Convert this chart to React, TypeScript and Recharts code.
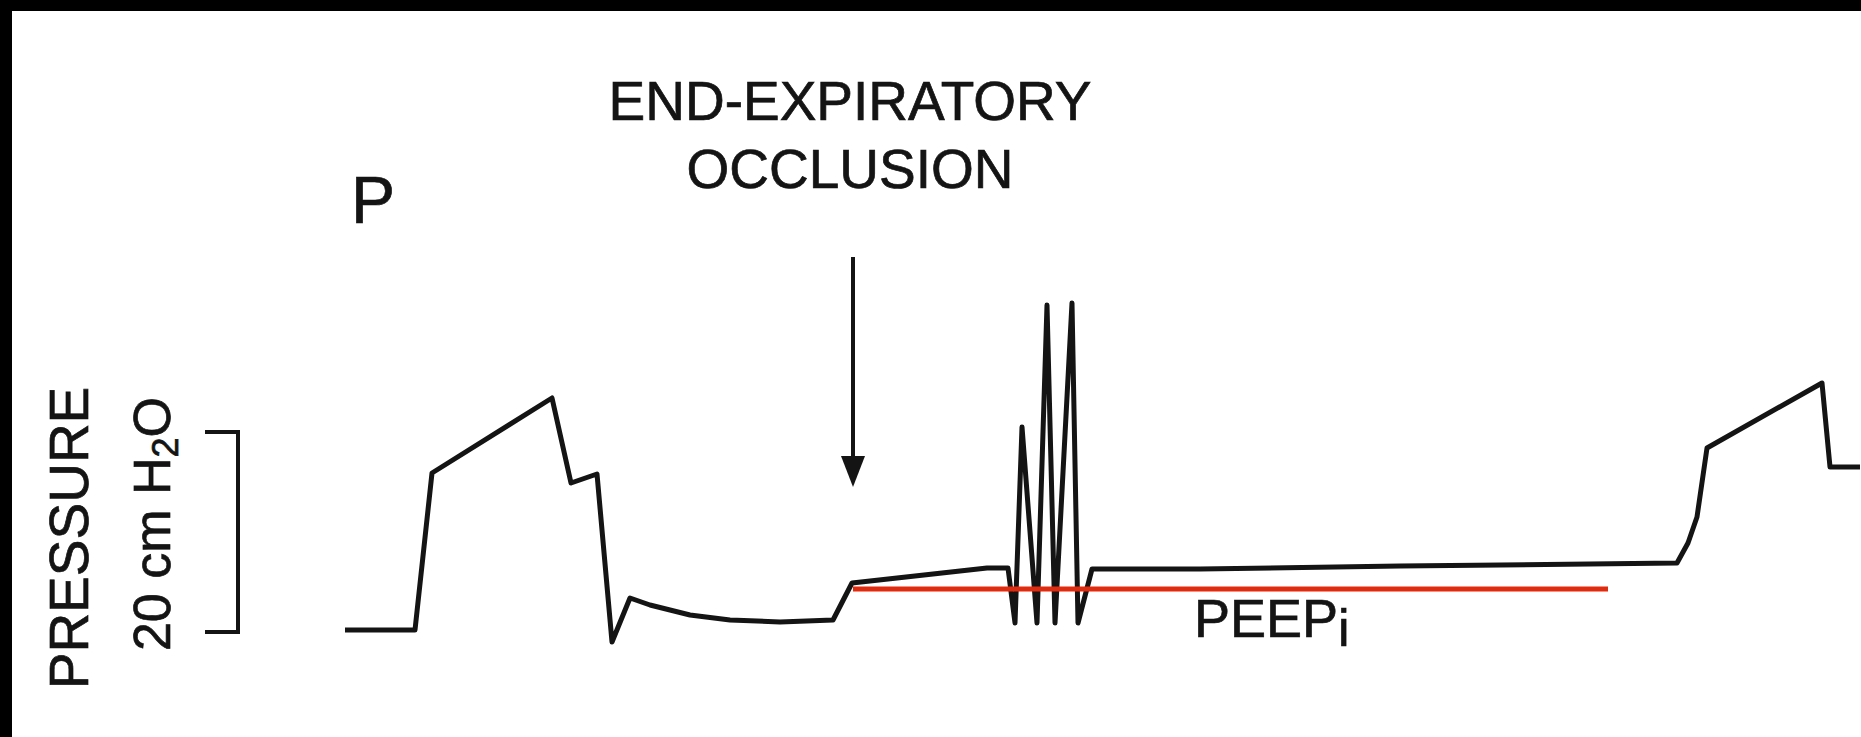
import { LineChart, Line, XAxis, YAxis, ReferenceLine, ReferenceDot } from 'recharts'

// time in s (1 s = 100 px of trace), pressure in cm H2O
const times = [
  3.45, 4.15, 4.32, 5.52, 5.71, 5.97, 6.12, 6.3, 6.5, 6.9, 7.3, 7.8, 8.33, 8.52, 9.87, 10.08,
  10.15, 10.22, 10.37, 10.47, 10.55, 10.72, 10.78, 10.92, 12.0, 14.0, 16.77, 16.88, 16.97,
  17.07, 18.22, 18.3, 18.6,
]
const pressures = [
  0.2, 0.2, 15.9, 23.4, 14.9, 15.8, -1.0, 3.4, 2.7, 1.7, 1.2, 1.0, 1.2, 4.9, 6.4, 6.4,
  0.9, 20.5, 0.9, 32.7, 0.9, 32.9, 0.9, 6.3, 6.3, 6.6, 6.9, 8.9, 11.5,
  18.4, 24.9, 16.5, 16.5,
]

const occlusionTime = 8.53
const peepStart = 8.53
const peepEnd = 16.08
const peepValue = 4.3
const scaleBar = [0, 20]

const data = times.map((t, i) => ({ t, p: pressures[i] }))

const font = '"Liberation Sans", Arial, Helvetica, sans-serif'
const ink = '#141414'

function ArrowHead(props: any) {
  const { cx, cy } = props
  return <polygon points={`${cx},${cy} ${cx - 12},${cy - 31} ${cx + 12},${cy - 31}`} fill={ink} />
}

// slightly heavier strokes on the text, like the scanned figure
const textStyle = { fontFamily: font, fill: ink, stroke: ink, strokeWidth: 0.7 }

export default function App() {
  return (
    <div style={{ position: 'absolute', left: 0, top: 0, width: 1861, height: 737, background: '#000' }}>
      <div style={{ position: 'absolute', left: 12, top: 11, width: 1849, height: 726, background: '#fff' }}>
        <LineChart width={1849} height={726} data={data} margin={{ top: 0, right: 0, bottom: 0, left: 0 }}>
          <XAxis type="number" dataKey="t" domain={[0.12, 18.61]} hide allowDataOverflow />
          <YAxis type="number" domain={[-10.5, 62.1]} hide allowDataOverflow />

          {/* 20 cm H2O scale bracket */}
          <ReferenceLine segment={[{ x: 2.38, y: scaleBar[0] }, { x: 2.38, y: scaleBar[1] }]} stroke={ink} strokeWidth={4} />
          <ReferenceLine segment={[{ x: 2.05, y: scaleBar[1] }, { x: 2.4, y: scaleBar[1] }]} stroke={ink} strokeWidth={4} />
          <ReferenceLine segment={[{ x: 2.05, y: scaleBar[0] }, { x: 2.4, y: scaleBar[0] }]} stroke={ink} strokeWidth={4} />

          {/* occlusion arrow */}
          <ReferenceLine segment={[{ x: occlusionTime, y: 37.5 }, { x: occlusionTime, y: 16.5 }]} stroke={ink} strokeWidth={4} />
          <ReferenceDot x={occlusionTime} y={14.5} r={1} shape={ArrowHead} />

          <Line
            type="linear"
            dataKey="p"
            stroke={ink}
            strokeWidth={5}
            strokeLinejoin="round"
            dot={false}
            activeDot={false}
            isAnimationActive={false}
          />

          <ReferenceLine
            segment={[{ x: peepStart, y: peepValue }, { x: peepEnd, y: peepValue }]}
            stroke="#e02b0e"
            strokeWidth={5}
          />

          <text x={838} y={109} textAnchor="middle" fontSize={55} {...textStyle}>
            END-EXPIRATORY
          </text>
          <text x={838} y={177} textAnchor="middle" fontSize={55} {...textStyle}>
            OCCLUSION
          </text>
          <text x={339} y={212} fontSize={66} {...textStyle}>
            P
          </text>
          <text x={1182} y={626} fontSize={54} {...textStyle}>
            PEEP<tspan fontSize={52} dy={9}>i</tspan>
          </text>
          <text x={76} y={527} textAnchor="middle" fontSize={55} transform="rotate(-90 76 527)" {...textStyle}>
            PRESSURE
          </text>
          <text x={158} y={513} textAnchor="middle" fontSize={52} transform="rotate(-90 158 513)" {...textStyle}>
            20 cm H<tspan fontSize={36} dy={8}>2</tspan><tspan dy={-8}>O</tspan>
          </text>
        </LineChart>
      </div>
    </div>
  )
}
